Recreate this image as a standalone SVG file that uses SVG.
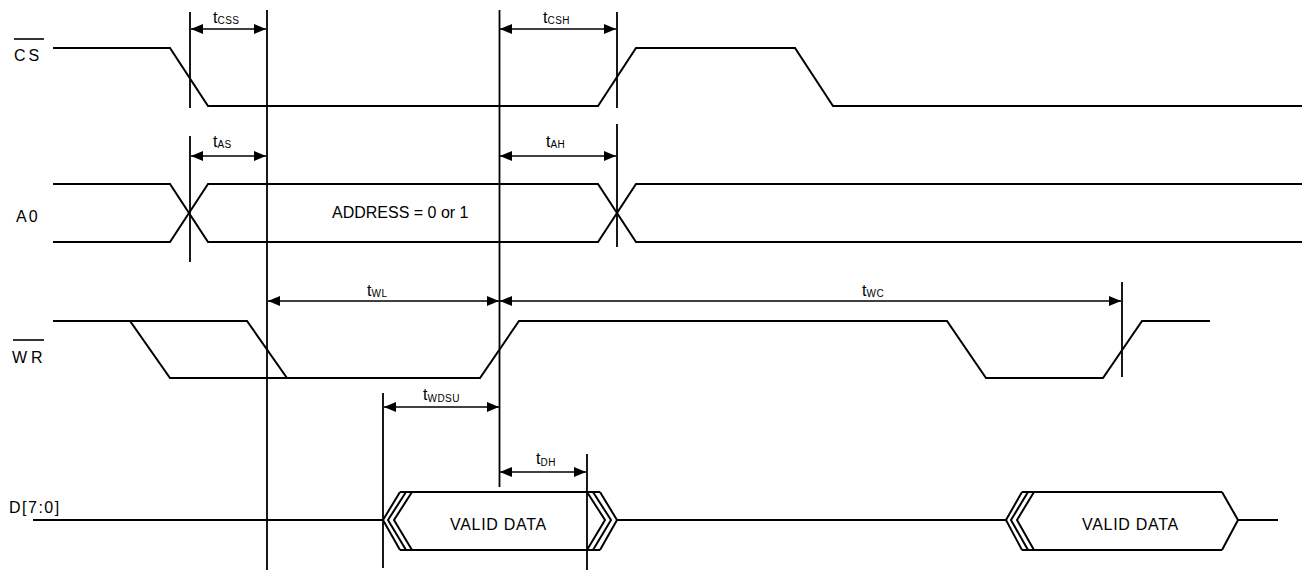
<svg xmlns="http://www.w3.org/2000/svg" width="1302" height="571" viewBox="0 0 1302 571">
<defs>
<marker id="ah" viewBox="0 0 12 10" refX="12" refY="5" markerWidth="12" markerHeight="10" markerUnits="userSpaceOnUse" orient="auto-start-reverse">
<path d="M0,0 L12,5 L0,10 Z" fill="#000"/>
</marker>
</defs>
<style>
.w{fill:none;stroke:#000;stroke-width:2;stroke-linejoin:miter}
.v{fill:none;stroke:#000;stroke-width:1.8}
.d{fill:none;stroke:#000;stroke-width:1.6;marker-start:url(#ah);marker-end:url(#ah)}
text{font-family:"Liberation Sans",Arial,sans-serif;fill:#000}
.lbl{font-size:16px}
.t{font-size:16px}
.s{font-size:10px;letter-spacing:0.5px}
</style>
<rect width="1302" height="571" fill="#fff"/>

<g id="labels">
<text class="lbl" x="14" y="61" letter-spacing="3">CS</text>
<line x1="14" y1="39" x2="44" y2="39" stroke="#000" stroke-width="1.6"/>
<text class="lbl" x="16" y="222" letter-spacing="2">A0</text>
<text class="lbl" x="12" y="363" letter-spacing="4" font-size="17">WR</text>
<line x1="13" y1="340" x2="44" y2="340" stroke="#000" stroke-width="1.6"/>
<text class="lbl" x="9" y="513" letter-spacing="1.5">D[7:0]</text>
</g>

<g id="cs">
<polyline class="w" points="53,48 170,48 208,106 598,106 636,48 795,48 833,106 1302,106"/>
</g>

<g id="a0">
<polyline class="w" points="53,184 170,184 208,242 598,242 636,184 1302,184"/>
<polyline class="w" points="53,242 170,242 208,184 598,184 636,242 1302,242"/>
<text class="lbl" x="332" y="218">ADDRESS = 0 or 1</text>
</g>

<g id="wr">
<polyline class="w" points="53,321 130,321 170,378 480,378 519,321 947,321 986,378 1103,378 1142,321 1210,321"/>
<polyline class="w" points="130,321 247,321 287,378 480,378"/>
</g>

<g id="data">
<line class="w" x1="33" y1="520" x2="383" y2="520"/>
<polyline class="w" points="400,492 383,520 400,550"/>
<polyline class="w" points="406,492 388,520 406,550"/>
<polyline class="w" points="412,492 394,520 412,550"/>
<line class="w" x1="400" y1="492" x2="600" y2="492"/>
<line class="w" x1="400" y1="550" x2="600" y2="550"/>
<polyline class="w" points="587,492 605,520 587,550"/>
<polyline class="w" points="593,492 611,520 593,550"/>
<polyline class="w" points="600,492 617,520 600,550"/>
<line class="w" x1="617" y1="520" x2="1006" y2="520"/>
<text class="lbl" x="450" y="530" letter-spacing="0.7">VALID DATA</text>

<polyline class="w" points="1022,492 1006,520 1022,550"/>
<polyline class="w" points="1028,492 1011,520 1028,550"/>
<polyline class="w" points="1034,492 1017,520 1034,550"/>
<line class="w" x1="1022" y1="492" x2="1222" y2="492"/>
<line class="w" x1="1022" y1="550" x2="1222" y2="550"/>
<polyline class="w" points="1222,492 1238,520 1222,550"/>
<line class="w" x1="1238" y1="520" x2="1278" y2="520"/>
<text class="lbl" x="1082" y="530" letter-spacing="0.7">VALID DATA</text>
</g>

<g id="connectors">
<line class="v" x1="190" y1="12" x2="190" y2="108"/>
<line class="v" x1="190" y1="136" x2="190" y2="262"/>
<line class="v" x1="267" y1="10" x2="267" y2="570"/>
<line class="v" x1="499.5" y1="10" x2="499.5" y2="487"/>
<line class="v" x1="617" y1="12" x2="617" y2="108"/>
<line class="v" x1="617" y1="124" x2="617" y2="247"/>
<line class="v" x1="1122" y1="282" x2="1122" y2="377"/>
<line class="v" x1="383" y1="393" x2="383" y2="568"/>
<line class="v" x1="587" y1="454" x2="587" y2="570"/>

<line class="d" x1="191" y1="29" x2="266" y2="29"/>
<line class="d" x1="500" y1="29" x2="616" y2="29"/>
<line class="d" x1="191" y1="156" x2="266" y2="156"/>
<line class="d" x1="500" y1="156" x2="616" y2="156"/>
<line class="d" x1="268" y1="301" x2="499" y2="301"/>
<line class="d" x1="500" y1="301" x2="1121" y2="301"/>
<line class="d" x1="384" y1="407" x2="499" y2="407"/>
<line class="d" x1="500" y1="472" x2="586" y2="472"/>
</g>

<g id="timing-labels">
<text class="t" x="213" y="23">t<tspan class="s" dy="1">CSS</tspan></text>
<text class="t" x="543" y="23">t<tspan class="s" dy="1">CSH</tspan></text>
<text class="t" x="213" y="147">t<tspan class="s" dy="1">AS</tspan></text>
<text class="t" x="546" y="147">t<tspan class="s" dy="1">AH</tspan></text>
<text class="t" x="367" y="296">t<tspan class="s" dy="1">WL</tspan></text>
<text class="t" x="862" y="296">t<tspan class="s" dy="1">WC</tspan></text>
<text class="t" x="423" y="400">t<tspan class="s" dy="2">WDSU</tspan></text>
<text class="t" x="536" y="464">t<tspan class="s" dy="2">DH</tspan></text>
</g>
</svg>
